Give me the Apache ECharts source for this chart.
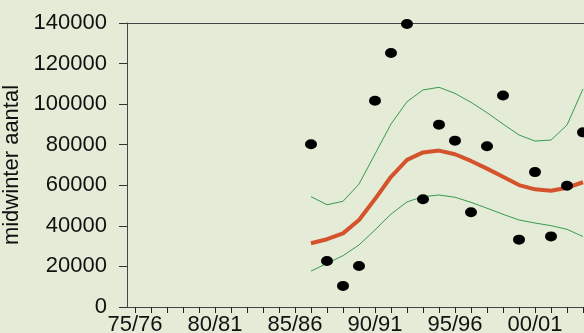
<!DOCTYPE html>
<html><head><meta charset="utf-8">
<script src="https://cdn.jsdelivr.net/npm/echarts@6/dist/echarts.min.js"></script>
<style>html,body{margin:0;padding:0;background:#e4ebd7;}#c{width:584px;height:333px;}</style>
</head><body><div id="c"></div>
<script>
// categories: winters 75/76 .. 06/07
const categories = [];
for (let y = 75; y < 107; y++) {
  const a = y % 100, b = (y + 1) % 100;
  categories.push(String(a).padStart(2,'0') + '/' + String(b).padStart(2,'0'));
}
// observed midwinter counts (start at 86/87)
const observed = [null,null,null,null,null,null,null,null,null,null,null,
  80200,22700,10400,20200,101700,125200,139500,53100,89900,82000,46700,79200,104300,33200,66500,34800,59800,86100];
const trend = [null,null,null,null,null,null,null,null,null,null,null,
  31400,33400,36300,42900,53200,64200,72500,76200,77100,75300,72000,68200,64200,60100,58000,57300,58800,61500];
const upper = [null,null,null,null,null,null,null,null,null,null,null,
  54400,50400,52100,60600,75400,90200,101200,107000,108300,105300,100900,95800,90200,84800,81800,82300,89700,107500];
const lower = [null,null,null,null,null,null,null,null,null,null,null,
  17700,21500,25300,30600,38000,45800,51800,54400,55200,54100,51600,48700,45700,42900,41400,40100,38300,34700];
const yTicks = [0,20000,40000,60000,80000,100000,120000,140000];

const chart = echarts.init(document.getElementById('c'));
const font = 'Liberation Sans, Arial, sans-serif';
chart.setOption({
  backgroundColor: '#e4ebd7',
  animation: false,
  grid: {left: 127, top: 23, width: categories.length * 16, height: 284,
         containLabel: false, outerBoundsMode: 'none'},
  xAxis: [{
    type: 'category', data: categories, boundaryGap: true,
    axisLine: {show: true, lineStyle: {color: '#444', width: 1}},
    axisTick: {show: true, alignWithLabel: true, interval: 0, length: 6, lineStyle: {color: '#222', width: 1}},
    axisLabel: {interval: 4, margin: 7, color: '#111', fontSize: 22, fontFamily: font},
    splitLine: {show: false}
  }, {
    type: 'category', data: categories, position: 'top', boundaryGap: true,
    axisLine: {onZero: false, lineStyle: {color: '#444', width: 1}},
    axisTick: {show: false}, axisLabel: {show: false}
  }],
  yAxis: {
    type: 'value', min: 0, max: 140000, interval: 20000,
    name: 'midwinter aantal', nameLocation: 'middle', nameGap: 98,
    nameTextStyle: {color: '#111', fontSize: 22, fontFamily: font},
    axisLine: {show: true, lineStyle: {color: '#444', width: 1}},
    axisTick: {show: true, length: 8, lineStyle: {color: '#333'}},
    axisLabel: {margin: 20, color: '#111', fontSize: 22, fontFamily: font,
      formatter: v => yTicks.includes(v) ? String(v) : ''},
    splitLine: {show: false}
  },
  series: [
    {type: 'line', data: upper, symbol: 'none', smooth: false,
     lineStyle: {color: '#3a9a4e', width: 1}, z: 2},
    {type: 'line', data: lower, symbol: 'none', smooth: false,
     lineStyle: {color: '#3a9a4e', width: 1}, z: 2},
    {type: 'line', data: trend, symbol: 'none', smooth: false,
     lineStyle: {color: '#d4532c', width: 4}, z: 3},
    {type: 'scatter', data: observed, symbol: 'circle', symbolSize: [12, 10],
     itemStyle: {color: '#000', opacity: 1}, z: 4}
  ]
});
</script></body></html>
